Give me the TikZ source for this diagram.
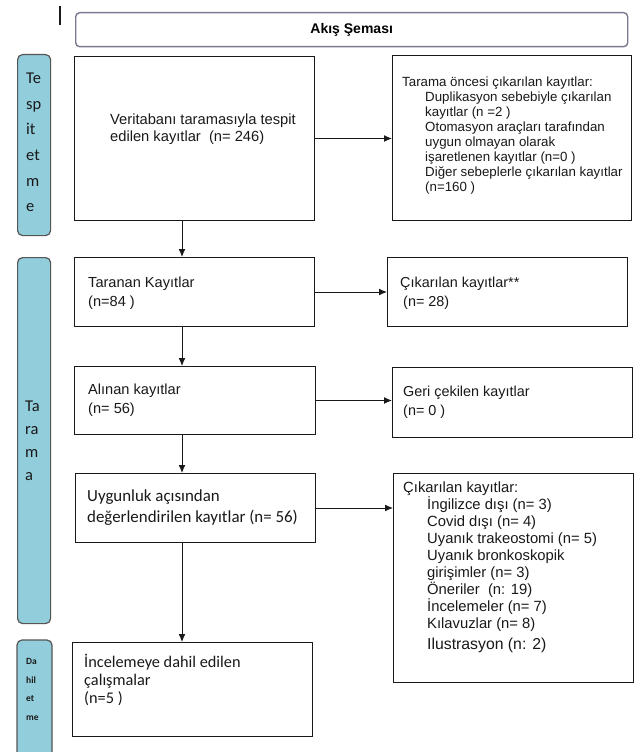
\documentclass[tikz,border=0pt]{standalone}
\usepackage{fontspec}
\setmainfont{Liberation Sans}
\newfontfamily\calfont{Carlito}
\usetikzlibrary{arrows.meta}
\definecolor{bandblue}{RGB}{146,205,220}
\definecolor{bandedge}{RGB}{85,85,85}
\definecolor{titleedge}{RGB}{125,120,145}
\definecolor{ink}{RGB}{25,25,25}
\newcommand{\tst}{\rule{0pt}{0.9em}}
\tikzset{
  box/.style={draw=ink, line width=1pt, fill=white, anchor=north west, inner sep=0pt},
  band/.style={draw=bandedge, line width=1.2pt, fill=bandblue, rounded corners=5pt, anchor=north west, inner sep=0pt},
  txt/.style={anchor=north west, inner sep=0pt, align=left, text=ink},
  arr/.style={-{Latex[length=8pt,width=7pt]}, line width=1pt, draw=ink},
}
\begin{document}
\begin{tikzpicture}[x=1pt,y=-1pt]
\useasboundingbox[fill=white] (0,0) rectangle (637,752);
% small mark
\draw[line width=1.8pt, ink] (60,6) -- (60,25);
% title
\node[draw=titleedge, line width=1.4pt, rounded corners=4pt, fill=white, minimum width=552pt, minimum height=34pt, anchor=north west, inner sep=0pt, font=\fontsize{14}{16}\selectfont\bfseries] (title) at (75,12) {Akış Şeması};
% bands
\node[band, minimum width=33pt, minimum height=181pt] (s1) at (17,54) {};
\node[band, minimum width=33pt, minimum height=366pt] (s2) at (17,257) {};
\fill[bandblue, rounded corners=5pt] (17,764) -- (17,640) -- (52,640) -- (52,764) -- cycle;
\draw[bandedge, line width=1.2pt, rounded corners=5pt] (17,764) -- (17,640) -- (52,640) -- (52,764);
\node[txt, font=\calfont\fontsize{16.5}{25.6}\selectfont] (s1t) at (26,68.6) {\tst Te\\sp\\it\\et\\m\\e};
\node[txt, font=\calfont\fontsize{16.5}{23}\selectfont] (s2t) at (25,396.6) {\tst Ta\\ra\\m\\a};
\node[txt, font=\calfont\bfseries\fontsize{9.5}{18.5}\selectfont] (s3t) at (26,656) {\tst Da\\hil\\et\\me};
% main boxes
\node[box, minimum width=240pt, minimum height=164pt] (b1) at (74,56) {};
\node[box, minimum width=239pt, minimum height=165pt] (r1) at (392,55) {};
\node[box, minimum width=240pt, minimum height=69pt] (b2) at (74,257) {};
\node[box, minimum width=240pt, minimum height=69pt] (r2) at (387,257) {};
\node[box, minimum width=241pt, minimum height=68pt] (b3) at (74,366) {};
\node[box, minimum width=240pt, minimum height=70pt] (r3) at (392,367) {};
\node[box, minimum width=240pt, minimum height=69pt] (b4) at (75,473) {};
\node[box, minimum width=240pt, minimum height=209pt] (r4) at (393,473) {};
\node[box, minimum width=240pt, minimum height=94pt] (b5) at (72,642) {};
% texts
\node[txt, font=\fontsize{14.7}{17}\selectfont] (b1t) at (110,110.7) {\tst Veritabanı taramasıyla tespit\\edilen kayıtlar\ \ (n= 246)};
\node[txt, font=\fontsize{13.3}{15}\selectfont] (r1t) at (402,74.6) {\tst Tarama öncesi çıkarılan kayıtlar:\\
\hspace*{23pt}Duplikasyon sebebiyle çıkarılan\\
\hspace*{23pt}kayıtlar (n =2 )\\
\hspace*{23pt}Otomasyon araçları tarafından\\
\hspace*{23pt}uygun olmayan olarak\\
\hspace*{23pt}işaretlenen kayıtlar (n=0 )\\
\hspace*{23pt}Diğer sebeplerle çıkarılan kayıtlar\\
\hspace*{23pt}(n=160 )};
\node[txt, font=\fontsize{14.6}{19}\selectfont] (b2t) at (88,273.8) {\tst Taranan Kayıtlar\\(n=84 )};
\node[txt, font=\fontsize{14.4}{19.5}\selectfont] (r2t) at (400,273.9) {\tst Çıkarılan kayıtlar**\\\hspace*{3pt}(n= 28)};
\node[txt, font=\fontsize{14.6}{19}\selectfont] (b3t) at (88,380.8) {\tst Alınan kayıtlar\\(n= 56)};
\node[txt, font=\fontsize{14.4}{19}\selectfont] (r3t) at (403,382.9) {\tst Geri çekilen kayıtlar\\(n= 0 )};
\node[txt, font=\calfont\fontsize{16.9}{21}\selectfont] (b4t) at (87,486.4) {\tst Uygunluk açısından\\değerlendirilen kayıtlar (n= 56)};
\node[txt, font=\fontsize{14.8}{17}\selectfont] (r4t) at (403,478.7) {\tst Çıkarılan kayıtlar:\\
\hspace*{24pt}İngilizce dışı (n= 3)\\
\hspace*{24pt}Covid dışı\ (n= 4)\\
\hspace*{24pt}Uyanık\ trakeostomi (n= 5)\\
\hspace*{24pt}Uyanık bronkoskopik\\
\hspace*{24pt}girişimler (n= 3)\\
\hspace*{24pt}Öneriler\ \ (n: 19)\\
\hspace*{24pt}İncelemeler (n= 7)\\
\hspace*{24pt}Kılavuzlar (n= 8)};
\node[txt, font=\fontsize{15.8}{17}\selectfont] (r4u) at (427,635) {\tst Ilustrasyon (n: 2)};
\node[txt, font=\calfont\fontsize{16.3}{18}\selectfont] (b5t) at (84,652.7) {\tst İncelemeye dahil edilen\\çalışmalar\\(n=5 )};
% connectors
\coordinate (ax) at (182,0);
\draw[arr] (b1.south -| ax) -- (b2.north -| ax);
\draw[arr] (b2.south -| ax) -- (b3.north -| ax);
\draw[arr] (b3.south -| ax) -- (b4.north -| ax);
\draw[arr] (b4.south -| ax) -- (b5.north -| ax);
\draw[arr] (b1.east) -- (b1.east -| r1.west);
\draw[arr] (b2.east) -- (b2.east -| r2.west);
\draw[arr] (b3.east) -- (b3.east -| r3.west);
\draw[arr] (b4.east) -- (b4.east -| r4.west);
\end{tikzpicture}
\end{document}
